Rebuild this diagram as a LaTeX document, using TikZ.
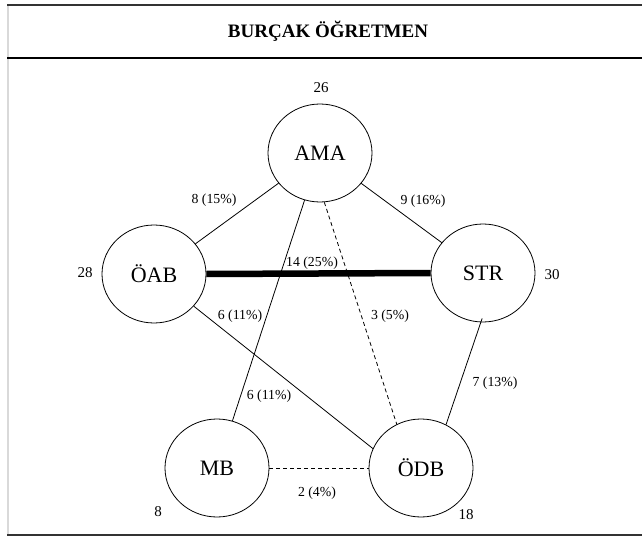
\documentclass[tikz,border=0pt]{standalone}
\usepackage{fontspec}
\setmainfont{Liberation Serif}
\usetikzlibrary{shapes.geometric}
\begin{document}
\begin{tikzpicture}[x=1bp,y=-1bp,
  actor/.style={draw,ellipse,line width=0.8bp,minimum width=104bp,minimum height=98bp,inner sep=0pt,font=\fontsize{22bp}{24bp}\selectfont},
  cnt/.style={inner sep=0pt,font=\fontsize{15bp}{17bp}\selectfont},
  elab/.style={inner sep=0pt,font=\fontsize{13.8bp}{15bp}\selectfont},
  tie/.style={line width=0.8bp},
  weak/.style={line width=0.8bp,dash pattern=on 4bp off 3bp},
  strong/.style={line width=6.5bp}]
\useasboundingbox (0,0) rectangle (642,536);
% frame
\draw[line width=2bp,black!15] (7.5,4) -- (7.5,536);
\draw[line width=2.5bp,black!80] (7,5) -- (642,5);
\draw[line width=1.5bp,black] (7,58) -- (642,58);
\draw[line width=2bp,black!80] (7,534.5) -- (642,534.5);
\node[inner sep=0pt,font=\bfseries\fontsize{19bp}{22bp}\selectfont] (title) at (328,31) {BURÇAK ÖĞRETMEN};
% actors
\node[actor] (AMA) at (320,153) {AMA};
\node[actor] (OAB) at (154,274) {ÖAB};
\node[actor] (STR) at (483,273) {STR};
\node[actor] (MB) at (217,468) {MB};
\node[actor] (ODB) at (421,468) {ÖDB};
% ties
\draw[tie] (AMA) -- (OAB);
\draw[tie] (AMA) -- (STR);
\draw[strong] (OAB.east) -- (STR.west);
\draw[tie] (AMA) -- (MB);
\draw[weak] (AMA.-85) -- (ODB.119);
\draw[tie] (OAB.-39) -- (ODB.158);
\draw[tie] ([yshift=4bp]STR.-91) -- (ODB.60);
\draw[weak] (MB.east) -- (ODB.west);
% counts
\node[cnt] (nAMA) at (321,88) {26};
\node[cnt] (nOAB) at (85,273) {28};
\node[cnt] (nSTR) at (552,275) {30};
\node[cnt] (nMB) at (158,512) {8};
\node[cnt] (nODB) at (466,515) {18};
% edge labels
\node[elab] (l1) at (214,200) {8 (15\%)};
\node[elab] (l2) at (423,201) {9 (16\%)};
\node[elab] (l3) at (312,263) {14 (25\%)};
\node[elab] (l4) at (240,316) {6 (11\%)};
\node[elab] (l5) at (390,316) {3 (5\%)};
\node[elab] (l6) at (269,396) {6 (11\%)};
\node[elab] (l7) at (495,383) {7 (13\%)};
\node[elab] (l8) at (317,493) {2 (4\%)};
\end{tikzpicture}
\end{document}
